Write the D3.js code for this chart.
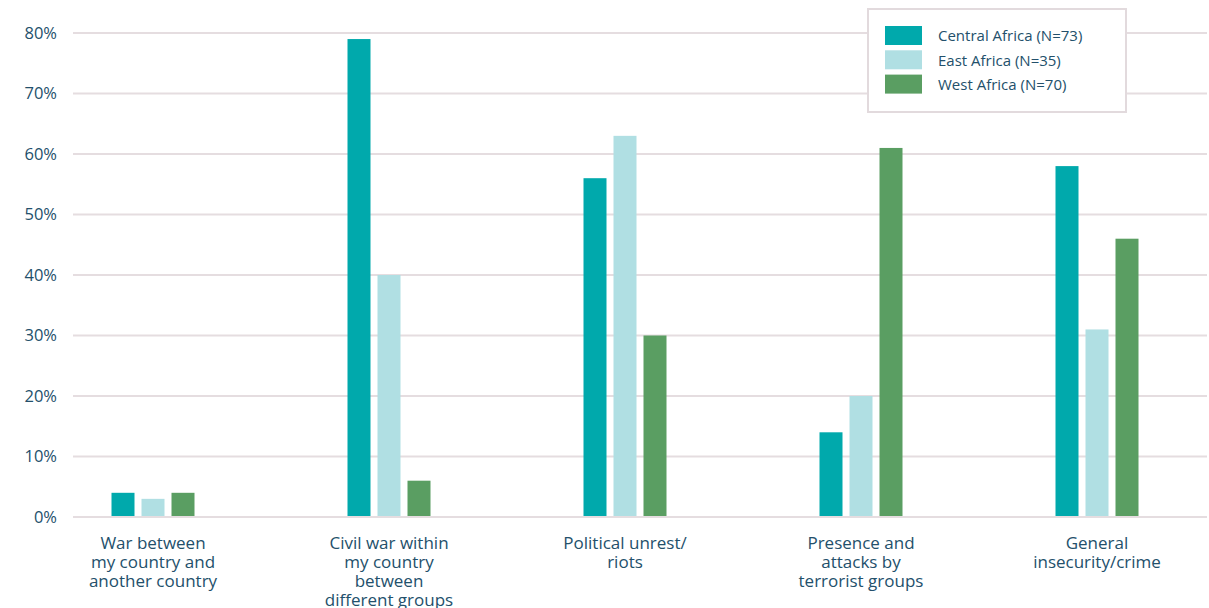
<!DOCTYPE html>
<html>
<head>
<meta charset="utf-8">
<script src="https://cdn.jsdelivr.net/npm/d3@7"></script>
<style>
  body { margin: 0; background: #fff; }
  svg { display: block; font-family: "Open Sans", Lato, sans-serif; }
</style>
</head>
<body>
<div id="chart"></div>
<script>
// data
const categories = [
  ["War between", "my country and", "another country"],
  ["Civil war within", "my country", "between", "different groups"],
  ["Political unrest/", "riots"],
  ["Presence and", "attacks by", "terrorist groups"],
  ["General", "insecurity/crime"]
];
const seriesNames = ["Central Africa (N=73)", "East Africa (N=35)", "West Africa (N=70)"];
const centralAfrica = [4, 79, 56, 14, 58];
const eastAfrica = [3, 40, 63, 20, 31];
const westAfrica = [4, 6, 30, 61, 46];
const yTicks = [0, 10, 20, 30, 40, 50, 60, 70, 80];
const colors = ["#00a9ac", "#b0dfe3", "#5a9e62"];

const series = [centralAfrica, eastAfrica, westAfrica];
const W = 1209, H = 608;
const textColor = "#23506b";

const svg = d3.select("#chart").append("svg")
  .attr("width", W).attr("height", H);

// scales
const y = d3.scaleLinear().domain([0, 80]).range([517, 33]);
const x0 = d3.scaleBand().domain(d3.range(categories.length)).range([35, 1215]);
const x1 = d3.scaleBand().domain(d3.range(series.length))
  .range([x0.bandwidth() / 2 - 41.5, x0.bandwidth() / 2 + 41.5]).paddingInner(7 / 30);

// grid
const grid = svg.append("g");
grid.selectAll("line").data(yTicks).join("line")
  .attr("x1", 73).attr("x2", 1207)
  .attr("y1", d => y(d)).attr("y2", d => y(d))
  .attr("stroke", "#e5dde0").attr("stroke-width", 2);

// y axis labels
const yAxis = svg.append("g")
  .attr("transform", "translate(57,0)")
  .call(d3.axisLeft(y).tickValues(yTicks).tickSize(0).tickPadding(0).tickFormat(d => d + "%"));
yAxis.select(".domain").remove();
yAxis.selectAll("text")
  .attr("fill", textColor)
  .attr("font-size", 16.5)
  .attr("font-family", "'Open Sans', sans-serif");

// bars
const groups = svg.append("g").selectAll("g").data(categories).join("g")
  .attr("transform", (d, i) => `translate(${x0(i)},0)`);

groups.selectAll("rect")
  .data((d, i) => series.map((s, j) => ({ j, v: s[i] })))
  .join("rect")
  .attr("x", d => x1(d.j))
  .attr("width", x1.bandwidth())
  .attr("y", d => y(d.v))
  .attr("height", d => y(0) - y(d.v) - 1)
  .attr("fill", d => colors[d.j]);

// category labels
groups.append("text")
  .attr("x", x0.bandwidth() / 2)
  .attr("y", 549)
  .attr("text-anchor", "middle")
  .attr("fill", textColor)
  .attr("font-size", 17)
  .selectAll("tspan").data(d => d).join("tspan")
  .attr("x", x0.bandwidth() / 2)
  .attr("dy", (d, i) => i === 0 ? 0 : 19)
  .text(d => d);

// legend
const legend = svg.append("g").attr("transform", "translate(868,9)");
legend.append("rect")
  .attr("width", 258).attr("height", 103)
  .attr("fill", "#fff").attr("stroke", "#e2dadd").attr("stroke-width", 2);
const items = legend.selectAll("g.item").data(seriesNames).join("g")
  .attr("class", "item")
  .attr("transform", (d, i) => `translate(17,${17 + i * 24.3})`);
items.append("rect")
  .attr("width", 37).attr("height", 19)
  .attr("fill", (d, i) => colors[i]);
items.append("text")
  .attr("x", 53).attr("y", 10)
  .attr("dy", "0.35em")
  .attr("fill", textColor)
  .attr("font-size", 15)
  .text(d => d);
</script>
</body>
</html>
